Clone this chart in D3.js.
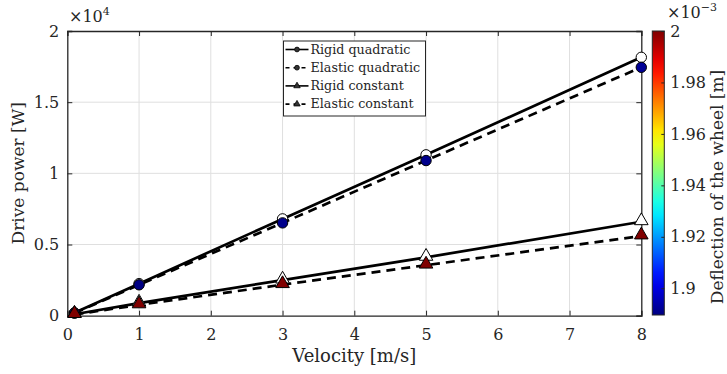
<!DOCTYPE html>
<html>
<head>
<meta charset="utf-8">
<script src="https://cdn.jsdelivr.net/npm/d3@7"></script>
<style>
  body { margin: 0; background: #fff; }
  svg text { font-family: "DejaVu Serif", serif; fill: #262626; }
</style>
</head>
<body>
<div id="chart"></div>
<script>
// velocity [m/s]
const velocity = [0.1, 1, 3, 5, 8];
// drive power [W]
const rigidQuadratic = [200, 2250, 6800, 11300, 18150];
const elasticQuadratic = [180, 2170, 6520, 10900, 17450];
const rigidConstant = [100, 880, 2500, 4100, 6600];
const elasticConstant = [80, 760, 2180, 3550, 5600];
// wheel deflection [m] for the elastic runs
const deflQuadratic = [0.001890, 0.001890, 0.001891, 0.001891, 0.001892];
const deflConstant = [0.002, 0.002, 0.002, 0.002, 0.002];

const xTicks = [0, 1, 2, 3, 4, 5, 6, 7, 8];
const yTicks = [0, 5000, 10000, 15000, 20000];
const yTickLabels = ["0", "0.5", "1", "1.5", "2"];
const cTicks = [0.0019, 0.00192, 0.00194, 0.00196, 0.00198, 0.002];
const cTickLabels = ["1.9", "1.92", "1.94", "1.96", "1.98", "2"];
const cDomain = [0.0018896, 0.002];

const width = 727, height = 374;
const pLeft = 67.3, pRight = 641.3, pTop = 31, pBottom = 315.7;
const serif = "'DejaVu Serif', serif";

const svg = d3.select("#chart").append("svg")
  .attr("width", width).attr("height", height)
  .attr("font-family", serif);

const x = d3.scaleLinear().domain([0, 8]).range([pLeft, pRight]);
const y = d3.scaleLinear().domain([0, 20000]).range([pBottom, pTop]);

// jet colormap
function jet(t) {
  const c = v => Math.max(0, Math.min(1, v));
  const r = c(1.5 - Math.abs(4 * t - 3)), g = c(1.5 - Math.abs(4 * t - 2)), b = c(1.5 - Math.abs(4 * t - 1));
  return d3.rgb(r * 255, g * 255, b * 255).toString();
}
const cScale = d3.scaleLinear().domain(cDomain).range([0, 1]).clamp(true);
const color = v => jet(cScale(v));

// grid
const grid = svg.append("g").attr("stroke", "#dfdfdf").attr("stroke-width", 1);
xTicks.slice(1, -1).forEach(t => grid.append("line")
  .attr("x1", x(t)).attr("x2", x(t)).attr("y1", pTop).attr("y2", pBottom));
yTicks.slice(1, -1).forEach(t => grid.append("line")
  .attr("y1", y(t)).attr("y2", y(t)).attr("x1", pLeft).attr("x2", pRight));

// axes with inward ticks (top/right mirrored)
const tickLen = 5;
const axB = svg.append("g").attr("transform", `translate(0,${pBottom})`)
  .call(d3.axisBottom(x).tickValues(xTicks).tickSize(-tickLen).tickPadding(10).tickFormat(d3.format("d")));
const axT = svg.append("g").attr("transform", `translate(0,${pTop})`)
  .call(d3.axisTop(x).tickValues(xTicks).tickSize(-tickLen).tickFormat(""));
const axL = svg.append("g").attr("transform", `translate(${pLeft},0)`)
  .call(d3.axisLeft(y).tickValues(yTicks).tickSize(-tickLen).tickPadding(8)
    .tickFormat((d, i) => yTickLabels[i]));
const axR = svg.append("g").attr("transform", `translate(${pRight},0)`)
  .call(d3.axisRight(y).tickValues(yTicks).tickSize(-tickLen).tickFormat(""));
[axB, axT, axL, axR].forEach(a => {
  a.attr("font-family", serif);
  a.select(".domain").attr("stroke", "#262626").attr("stroke-width", 1.3);
  a.selectAll(".tick line").attr("stroke", "#262626").attr("stroke-width", 1);
  a.selectAll(".tick text").attr("font-size", 16).attr("fill", "#262626");
});
axB.selectAll(".tick text").attr("dy", "0.9em");

// exponent labels
const e4 = svg.append("text").attr("x", 69).attr("y", 22).attr("font-size", 16);
e4.append("tspan").text("\u00d710");
e4.append("tspan").attr("font-size", 11).attr("dy", -7).text("4");

// lines
const line = d3.line().x((d, i) => x(velocity[i])).y(d => y(d));
const series = [
  { v: rigidQuadratic, dash: null },
  { v: elasticQuadratic, dash: "9,6" },
  { v: rigidConstant, dash: null },
  { v: elasticConstant, dash: "9,6" }
];
series.forEach(s => svg.append("path").datum(s.v)
  .attr("d", line).attr("fill", "none").attr("stroke", "#000")
  .attr("stroke-width", 2.7).attr("stroke-dasharray", s.dash));

// markers
const circ = d3.symbol().type(d3.symbolCircle).size(85);
const tri = d3.symbol().type(d3.symbolTriangle).size(80);
function markers(vals, sym, fills, dy) {
  svg.append("g").selectAll("path").data(vals).join("path")
    .attr("d", sym)
    .attr("transform", (d, i) => `translate(${x(velocity[i])},${y(d) + dy})`)
    .attr("fill", (d, i) => fills(i)).attr("stroke", "#000").attr("stroke-width", 1);
}
markers(rigidQuadratic, circ, () => "#fff", 0);
markers(elasticQuadratic, circ, i => color(deflQuadratic[i]), 0);
markers(rigidConstant, tri, () => "#fff", -1);
markers(elasticConstant, tri, i => color(deflConstant[i]), -1);

// legend
const lg = svg.append("g").attr("transform", "translate(283.5,41)");
lg.append("rect").attr("width", 142).attr("height", 75)
  .attr("fill", "#fff").attr("stroke", "#262626").attr("stroke-width", 1);
const legendItems = [
  { label: "Rigid quadratic", dash: null, type: d3.symbolCircle },
  { label: "Elastic quadratic", dash: "4,4", type: d3.symbolCircle },
  { label: "Rigid constant", dash: null, type: d3.symbolTriangle },
  { label: "Elastic constant", dash: "4,4", type: d3.symbolTriangle }
];
legendItems.forEach((it, i) => {
  const g = lg.append("g").attr("transform", `translate(0,${8.5 + i * 18.2})`);
  g.append("line").attr("x1", 2).attr("x2", 25).attr("stroke", "#000")
    .attr("stroke-width", 1.6).attr("stroke-dasharray", it.dash);
  g.append("path").attr("d", d3.symbol().type(it.type).size(18))
    .attr("transform", "translate(13.5,0)").attr("fill", "#333").attr("stroke", "#000").attr("stroke-width", 0.8);
  g.append("text").attr("x", 27).attr("dy", "0.33em").attr("font-size", 12.7).text(it.label);
});

// colorbar
const cbX = 652.3, cbW = 12;
const cbY = d3.scaleLinear().domain(cDomain).range([pBottom - 0.7, pTop]);
const defs = svg.append("defs");
const grad = defs.append("linearGradient").attr("id", "jet")
  .attr("x1", 0).attr("y1", 1).attr("x2", 0).attr("y2", 0);
d3.range(0, 1.0001, 0.05).forEach(t => grad.append("stop")
  .attr("offset", t).attr("stop-color", jet(t)));
svg.append("rect").attr("x", cbX).attr("y", pTop).attr("width", cbW)
  .attr("height", cbY(cDomain[0]) - pTop).attr("fill", "url(#jet)")
  .attr("stroke", "#262626").attr("stroke-width", 1);
const axC = svg.append("g").attr("transform", `translate(${cbX + cbW},0)`)
  .call(d3.axisRight(cbY).tickValues(cTicks).tickSize(-3).tickPadding(6)
    .tickFormat((d, i) => cTickLabels[i]));
axC.attr("font-family", serif);
axC.select(".domain").remove();
axC.selectAll(".tick line").attr("stroke", "#262626");
axC.selectAll(".tick text").attr("font-size", 16).attr("fill", "#262626");
const e3 = svg.append("text").attr("x", 667).attr("y", 18).attr("font-size", 16);
e3.append("tspan").text("\u00d710");
e3.append("tspan").attr("font-size", 11).attr("dy", -7).text("\u22123");

// axis labels
svg.append("text").attr("x", (pLeft + pRight) / 2).attr("y", 362)
  .attr("text-anchor", "middle").attr("font-size", 18).text("Velocity [m/s]");
svg.append("text").attr("transform", `translate(24,${(pTop + pBottom) / 2}) rotate(-90)`)
  .attr("text-anchor", "middle").attr("font-size", 17).text("Drive power [W]");
svg.append("text").attr("transform", "translate(717,187) rotate(-90)")
  .attr("text-anchor", "middle").attr("dy", "0.35em").attr("font-size", 17).text("Deflection of the wheel [m]");
</script>
</body>
</html>
